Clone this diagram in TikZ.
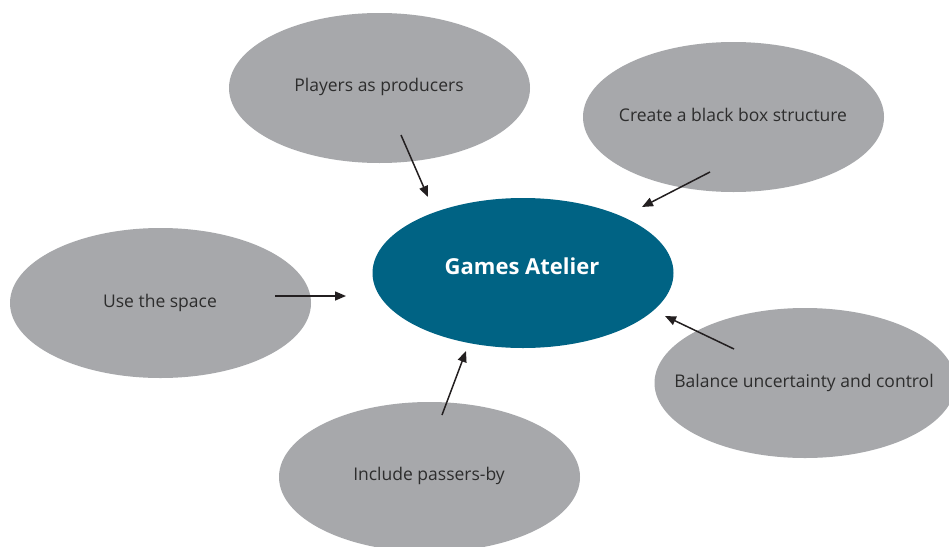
\documentclass[tikz,border=0pt]{standalone}
\usepackage{fontspec}
\setmainfont{Open Sans}
\usetikzlibrary{arrows.meta,shapes.geometric}
\definecolor{tealc}{RGB}{0,99,132}
\definecolor{gfill}{RGB}{167,168,171}
\definecolor{gtext}{RGB}{45,45,45}
\definecolor{arrowc}{RGB}{35,31,32}
\tikzset{
  idea/.style={ellipse, fill=gfill, minimum width=301pt, minimum height=150pt, inner sep=0pt},
  core/.style={ellipse, fill=tealc, minimum width=301pt, minimum height=150pt, inner sep=0pt},
  label/.style={text=gtext, inner sep=0pt, font=\fontsize{17.5}{20}\selectfont},
  corelabel/.style={text=white, inner sep=0pt, font=\fontsize{22}{26}\selectfont\bfseries},
  arr/.style={draw=arrowc, line width=1.5pt, -{Triangle[length=11pt,width=9pt]}}
}
\begin{document}
\begin{tikzpicture}[x=1pt,y=-1pt]
\useasboundingbox (0,0) rectangle (949,546);
\clip (0,0) rectangle (949,546);
\fill[white] (0,0) rectangle (949,546);
\node[core] (c) at (523,273) {};
\node[corelabel] (ct) at (522,266) {Games Atelier};
\node[idea] (p) at (379.5,88) {};
\node[idea] (b) at (733.5,117) {};
\node[idea] (u) at (160.5,303) {};
\node[idea] (bal) at (805,383) {};
\node[idea] (i) at (429.5,477) {};
\node[label] (pt) at (379,87) {Players as producers};
\node[label] (bt) at (733,115) {Create a black box structure};
\node[label] (ut) at (160,303) {Use the space};
\node[label] (balt) at (804,383) {Balance uncertainty and control};
\node[label] (it) at (429,476) {Include passers-by};
\coordinate (p1) at (401,135);  \coordinate (p2) at (428,197);
\coordinate (b1) at (710,172);  \coordinate (b2) at (642,207);
\coordinate (u1) at (275,296);  \coordinate (u2) at (346,296);
\coordinate (l1) at (734,349);  \coordinate (l2) at (665,316);
\coordinate (i1) at (442,415);  \coordinate (i2) at (466,351);
\draw[arr] (p1) -- (p2);
\draw[arr] (b1) -- (b2);
\draw[arr] (u1) -- (u2);
\draw[arr] (l1) -- (l2);
\draw[arr] (i1) -- (i2);
\end{tikzpicture}
\end{document}
